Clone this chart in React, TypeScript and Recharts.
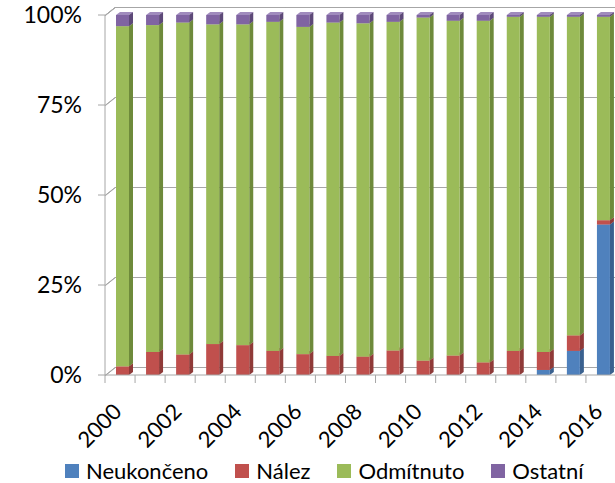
import { BarChart, Bar, XAxis, YAxis, CartesianGrid, Legend } from 'recharts'

const years = ['2000', '2001', '2002', '2003', '2004', '2005', '2006', '2007', '2008', '2009', '2010', '2011', '2012', '2013', '2014', '2015', '2016']
const neukonceno = [0, 0, 0, 0, 0, 0, 0, 0, 0, 0, 0, 0, 0, 0, 1.4, 6.7, 41.8]
const nalez = [2.4, 6.4, 5.7, 8.6, 8.3, 6.7, 5.8, 5.3, 5.1, 6.8, 4.0, 5.4, 3.5, 6.7, 5.0, 4.3, 1.2]
const odmitnuto = [94.5, 90.8, 92.2, 88.8, 89.1, 91.4, 90.9, 92.6, 92.6, 91.3, 95.3, 93.0, 94.9, 92.8, 93.1, 88.5, 56.5]
const ostatni = [3.1, 2.8, 2.1, 2.6, 2.6, 1.9, 3.3, 2.1, 2.3, 1.9, 0.7, 1.6, 1.6, 0.5, 0.5, 0.5, 0.5]
const yTicks = [0, 25, 50, 75, 100]

const series = [
  { key: 'neukonceno', name: 'Neukončeno', color: '#4f81bd', side: '#3a618f', top: '#7ba0cf' },
  { key: 'nalez', name: 'Nález', color: '#c0504d', side: '#8f3a38', top: '#d27a77' },
  { key: 'odmitnuto', name: 'Odmítnuto', color: '#9bbb59', side: '#6e8a3b', top: '#b5cf82' },
  { key: 'ostatni', name: 'Ostatní', color: '#8064a2', side: '#5d4978', top: '#a08bbd' },
]

const data = years.map((year, i) => ({
  year,
  neukonceno: neukonceno[i],
  nalez: nalez[i],
  odmitnuto: odmitnuto[i],
  ostatni: ostatni[i],
}))

const FONT = 'Lato, "DejaVu Sans", sans-serif'
const GRID = '#a6a6a6'
const BAND = 30
const WALL_X = 10
const WALL_Y = 8

// back-wall gridline pieces for one category band (drawn by the bottom series so the columns cover them)
const bandGrid = (props: any) => {
  const bg = props.background || { x: props.x, y: 15, width: props.width, height: 360 }
  const cx = bg.x + bg.width / 2
  const left = cx - BAND / 2
  const right = cx + BAND / 2
  return yTicks.map(t => {
    const yy = Math.round(bg.y + bg.height * (1 - t / 100)) + 0.5
    const d = props.index === 0
      ? `M${left},${yy} L${left + WALL_X},${yy - WALL_Y} L${right},${yy - WALL_Y}`
      : `M${left},${yy - WALL_Y} L${right},${yy - WALL_Y}`
    return <path key={t} d={d} stroke={GRID} strokeWidth={1} fill="none" />
  })
}

// column with a bit of depth, like the old excel 3d columns
const makeShape = (s: typeof series[number], withGrid: boolean) => (props: any) => {
  const { x, y, width, height } = props
  const grid = withGrid ? bandGrid(props) : null
  if (!height || height <= 0) return <g>{grid}</g>
  const bx = x + 2
  const dx = 4
  const dy = 3
  return (
    <g>
      {grid}
      <polygon points={`${bx},${y} ${bx + dx},${y - dy} ${bx + width + dx},${y - dy} ${bx + width},${y}`} fill={s.top} />
      <polygon points={`${bx + width},${y} ${bx + width + dx},${y - dy} ${bx + width + dx},${y + height - dy} ${bx + width},${y + height}`} fill={s.side} />
      <rect x={bx} y={y} width={width} height={height} fill={s.color} />
    </g>
  )
}

const gridPath = (props: any) => {
  const x1 = Number(props.x1)
  const y1 = Math.round(Number(props.y1)) + 0.5
  const x2 = Number(props.x2)
  return <path key={props.key} d={`M${x1},${y1} L${x1 + WALL_X},${y1 - WALL_Y} L${x2},${y1 - WALL_Y}`} stroke={GRID} strokeWidth={1} fill="none" />
}

const YearTick = (props: any) => {
  const { x, y, payload, index } = props
  const off = payload.offset || 0
  return (
    <g>
      <line x1={x - off} y1={y} x2={x - off} y2={y + 8} stroke={GRID} />
      {index % 2 === 0 && (
        <text x={x + 3} y={y + 38} textAnchor="end" transform={`rotate(-45, ${x + 3}, ${y + 38})`} fontFamily={FONT} fontSize={22} fill="#000">
          {payload.value}
        </text>
      )}
    </g>
  )
}

const renderLegend = () => (
  <div style={{ display: 'flex', alignItems: 'center', height: 28, lineHeight: '28px', fontFamily: FONT, fontSize: 22, color: '#000', whiteSpace: 'nowrap' }}>
    {series.map(s => (
      <div key={s.key} style={{ display: 'flex', alignItems: 'center', marginRight: 27 }}>
        <span style={{ display: 'inline-block', width: 14, height: 14, background: s.color, marginRight: 7 }} />
        <span>{s.name}</span>
      </div>
    ))}
  </div>
)

export default function App() {
  return (
    <div style={{ position: 'absolute', left: 0, top: 0, width: 615, height: 483, overflow: 'hidden', background: '#fff' }}>
      <BarChart width={640} height={483} data={data} margin={{ top: 15, right: 24, left: 0, bottom: 48 }} barSize={13}>
        <CartesianGrid vertical={false} horizontal={gridPath} />
        <XAxis
          dataKey="year"
          interval={0}
          height={60}
          tickSize={0}
          tickMargin={0}
          axisLine={{ stroke: GRID }}
          tick={<YearTick />}
        />
        <YAxis
          width={105}
          domain={[0, 100]}
          ticks={yTicks}
          tickFormatter={v => `${v}%`}
          tickSize={7}
          tickMargin={16}
          axisLine={{ stroke: GRID }}
          tickLine={{ stroke: GRID }}
          tick={{ fill: '#000', fontSize: 23, fontFamily: FONT }}
        />
        <Legend verticalAlign="middle" layout="horizontal" content={renderLegend} wrapperStyle={{ top: 457, left: 65, width: 540, height: 28 }} />
        {series.map((s, i) => (
          <Bar key={s.key} dataKey={s.key} name={s.name} stackId="a" fill={s.color} shape={makeShape(s, i === 0)} isAnimationActive={false} />
        ))}
      </BarChart>
    </div>
  )
}
